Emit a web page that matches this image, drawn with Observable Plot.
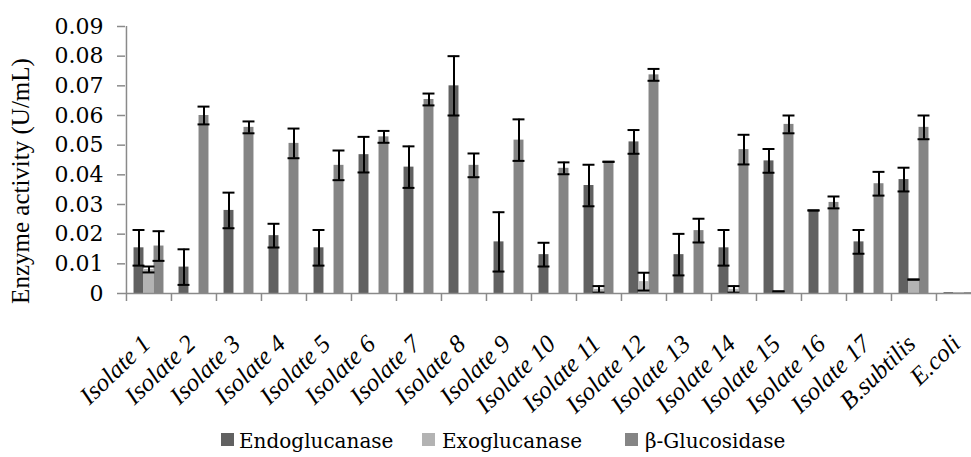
<!DOCTYPE html>
<html><head><meta charset="utf-8">
<script src="https://cdn.jsdelivr.net/npm/d3@7"></script>
<script src="https://cdn.jsdelivr.net/npm/@observablehq/plot@0.6"></script>
<style>
body{margin:0;background:#fff;}
#chart{width:971px;height:457px;position:relative;overflow:hidden;background:#fff;}
#chart svg{position:absolute;left:0;top:0;overflow:visible;}
.legend{position:absolute;left:0;top:0;width:971px;height:457px;pointer-events:none;}
.legend .item{position:absolute;top:428px;font-size:20px;line-height:26px;color:#000;white-space:nowrap;}
.legend .sw{position:absolute;top:433px;width:13px;height:13px;}
</style></head><body><div id="chart"></div>
<script>
const categories = ["Isolate 1","Isolate 2","Isolate 3","Isolate 4","Isolate 5","Isolate 6","Isolate 7","Isolate 8","Isolate 9","Isolate 10","Isolate 11","Isolate 12","Isolate 13","Isolate 14","Isolate 15","Isolate 16","Isolate 17","B.subtilis","E.coli"];
const seriesNames = ["Endoglucanase","Exoglucanase","β-Glucosidase"];
const seriesColors = ["#616161","#b3b3b3","#858585"];
const endo    = [0.0154,0.0089,0.0280,0.0195,0.0154,0.0468,0.0426,0.0700,0.0174,0.0131,0.0364,0.0511,0.0131,0.0154,0.0447,0.0280,0.0174,0.0384,0.0003];
const endoErr = [0.006,0.006,0.006,0.004,0.006,0.006,0.007,0.010,0.010,0.004,0.007,0.004,0.007,0.006,0.004,0,0.004,0.004,null];
const exo     = [0.0081,0,0,0,0,0,0,0,0,0,0.0014,0.0040,0,0.0014,0.0007,0,0,0.0047,0.0003];
const exoErr  = [0.001,null,null,null,null,null,null,null,null,null,0.0011,0.003,null,0.0011,0,null,null,0,null];
const beta    = [0.0160,0.0600,0.0560,0.0506,0.0432,0.0528,0.0654,0.0432,0.0517,0.0422,0.0444,0.0737,0.0212,0.0485,0.0570,0.0307,0.0370,0.0560,0.0003];
const betaErr = [0.005,0.003,0.002,0.005,0.005,0.002,0.002,0.004,0.007,0.002,0,0.002,0.004,0.005,0.003,0.002,0.004,0.004,null];
const yTickValues = [0,0.01,0.02,0.03,0.04,0.05,0.06,0.07,0.08,0.09];
const yTitle = "Enzyme activity (U/mL)";

const values = [endo, exo, beta];
const errs = [endoErr, exoErr, betaErr];
const rows = seriesNames.map((s, k) => categories.map((c, i) => ({cat: c, series: s, value: values[k][i], err: errs[k][i]})));

const W = 971, H = 410, mL = 125, mR = -10, mT = 26, mB = 117;
const step = (W - mL - mR) / categories.length;
const barW = 10, capW = 12;
const offsets = [-barW, 0, barW];
const axisColor = "#8a8a8a";
const serif = "Liberation Serif";
const serif2 = "DejaVu Serif";

const marks = [];
rows.forEach((data, k) => {
  marks.push(Plot.barY(data, {x: "cat", y: "value", fill: seriesColors[k],
    insetLeft: step/2 + offsets[k] - barW/2, insetRight: step/2 - offsets[k] - barW/2}));
});
rows.forEach((data, k) => {
  const withErr = data.filter(d => d.err != null);
  marks.push(Plot.ruleX(withErr, {x: "cat", y1: d => d.value - d.err, y2: d => d.value + d.err, dx: offsets[k], stroke: "#000", strokeWidth: 2}));
  for (const f of [d => d.value - d.err, d => d.value + d.err]) {
    marks.push(Plot.tickY(withErr, {x: "cat", y: f, stroke: "#000", strokeWidth: 2,
      insetLeft: step/2 + offsets[k] - capW/2, insetRight: step/2 - offsets[k] - capW/2}));
  }
});
marks.push(Plot.ruleY([0], {stroke: axisColor, strokeWidth: 1.5}));
marks.push(Plot.ruleX([categories[0]], {dx: -step/2, y1: yTickValues[0], y2: yTickValues[yTickValues.length-1], stroke: axisColor, strokeWidth: 1.5}));
marks.push(Plot.axisX({tickSize: 8, tickFormat: () => "", dx: -step/2, stroke: axisColor, strokeWidth: 1.5}));
marks.push(Plot.text(categories, {x: d => d, frameAnchor: "bottom", textAnchor: "end", rotate: -44, dy: 52, dx: 3, fontSize: 25, fontStyle: "italic", fontFamily: serif, fill: "#000"}));
marks.push(Plot.axisY({ticks: yTickValues, tickSize: 8, tickPadding: 14, fontSize: 22, fontFamily: serif2, stroke: axisColor, strokeWidth: 1.5, fill: "#000",
  tickFormat: d => d === 0 ? "0" : d.toFixed(2), label: null}));
marks.push(Plot.text([yTitle], {frameAnchor: "left", textAnchor: "middle", rotate: -90, dx: -105, dy: 21, fontSize: 25, fontFamily: serif, fill: "#000"}));

const plot = Plot.plot({
  width: W, height: H, marginLeft: mL, marginRight: mR, marginTop: mT, marginBottom: mB,
  x: {domain: categories, padding: 0, label: null, axis: null},
  y: {domain: [0, 0.09], label: null, axis: null},
  marks
});
const chart = document.getElementById("chart");
chart.appendChild(plot);

const legend = document.createElement("div");
legend.className = "legend";
const legendX = [{sw: 221, tx: 239}, {sw: 422, tx: 442}, {sw: 625, tx: 645}];
seriesNames.forEach((s, k) => {
  const sw = document.createElement("div");
  sw.className = "sw"; sw.style.left = legendX[k].sw + "px"; sw.style.background = seriesColors[k];
  const t = document.createElement("div");
  t.className = "item"; t.style.left = legendX[k].tx + "px"; t.textContent = s;
  t.style.fontFamily = serif2;
  legend.appendChild(sw); legend.appendChild(t);
});
chart.appendChild(legend);
</script></body></html>
